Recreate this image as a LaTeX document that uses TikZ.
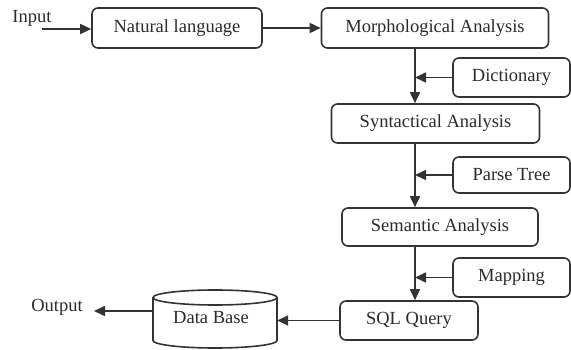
\documentclass[tikz,border=0pt]{standalone}
\usepackage{fontspec}
\setmainfont{Liberation Serif}
\newfontfamily\tmsfont{Liberation Serif}
\usetikzlibrary{arrows.meta}
\definecolor{ln}{HTML}{333333}
\definecolor{tx}{HTML}{2a2a2a}
\begin{document}
\begin{tikzpicture}[x=1pt,y=-1pt,
  font=\tmsfont\fontsize{18.5}{20}\selectfont, text=tx,
  box/.style={draw=ln, line width=1.6pt, rounded corners=6pt, inner sep=0pt},
  arr/.style={draw=ln, line width=1.6pt, -{Triangle[length=11pt,width=10pt]}},
  lbl/.style={inner sep=0pt}]
\useasboundingbox (0,0) rectangle (571,350);
\coordinate (vline) at (415,0);
\node[box, minimum width=170pt, minimum height=40pt] (nl) at (177,28) {Natural language};
\node[box, minimum width=227pt, minimum height=40pt] (morph) at (435,28) {Morphological Analysis};
\node[box, minimum width=117pt, minimum height=39pt] (dict) at (511.5,77.5) {Dictionary};
\node[box, minimum width=208pt, minimum height=39pt] (synt) at (435.5,123.5) {Syntactical Analysis};
\node[box, minimum width=117pt, minimum height=36pt] (parse) at (511.5,175) {Parse Tree};
\node[box, minimum width=196pt, minimum height=38pt] (sem) at (440,227) {Semantic Analysis};
\node[box, minimum width=117pt, minimum height=39pt] (map) at (511.5,277.5) {Mapping};
\node[box, minimum width=138pt, minimum height=39pt] (sql) at (409,320.5) {SQL Query};
\node[lbl] (in) at (32,18) {Input};
\node[lbl] (out) at (57,307) {Output};
% database cylinder
\node[inner sep=0pt, minimum width=124pt, minimum height=58pt] (db) at (215,319) {};
\node[lbl] (dbt) at (211,318) {Data Base};
\draw[ln, line width=1.6pt] (153,297.5) -- (153,340.5)
  arc[start angle=180, end angle=360, x radius=62pt, y radius=7.5pt] -- (277,297.5);
\draw[ln, line width=1.6pt] (215,297.5) ellipse[x radius=62pt, y radius=7.5pt];
\coordinate (instart) at (42,29);
\coordinate (outend) at (94,311);
% connectors
\draw[arr] (instart) -- (instart -| nl.west);
\draw[arr] (nl.east) -- (morph.west);
\draw[arr] (morph.south -| vline) -- (synt.north -| vline);
\draw[arr] (dict.west) -- (dict.west -| vline);
\draw[arr] (synt.south -| vline) -- (sem.north -| vline);
\draw[arr] (parse.west) -- (parse.west -| vline);
\draw[arr] (sem.south -| vline) -- (sql.north -| vline);
\draw[arr] (map.west) -- (map.west -| vline);
\draw[arr] (sql.west) -- (sql.west -| db.east);
\draw[arr] (db.west |- outend) -- (outend);
\end{tikzpicture}
\end{document}
